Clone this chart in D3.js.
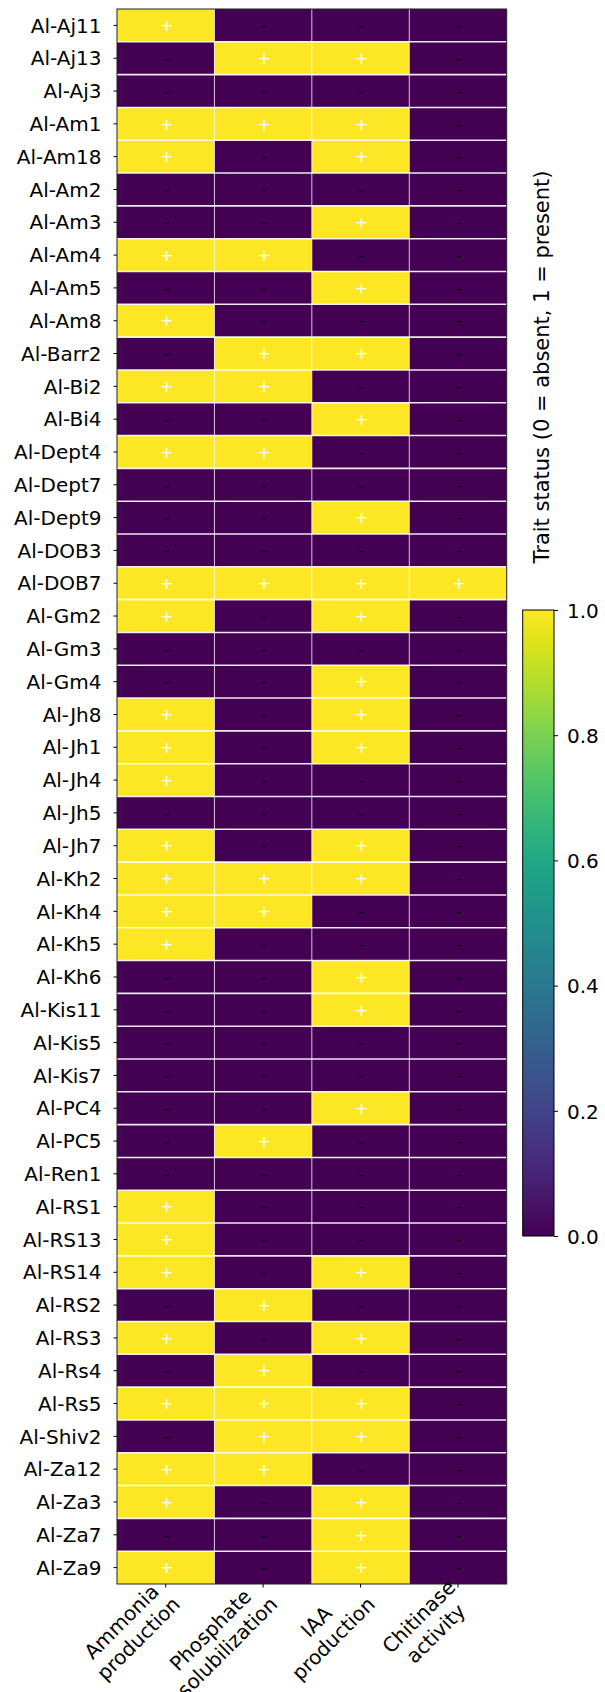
<!DOCTYPE html>
<html>
<head>
<meta charset="utf-8" />
<title>Trait heatmap</title>
<script src="https://d3js.org/d3.v7.min.js"></script>
<style>
  body { margin: 0; background: #fff; }
  text { font-family: 'DejaVu Sans', sans-serif; fill: #000; }
</style>
</head>
<body>
<div id="chart"></div>
<script>
// strains (rows, top to bottom)
const strains = [
  'Al-Aj11', 'Al-Aj13', 'Al-Aj3', 'Al-Am1', 'Al-Am18', 'Al-Am2', 'Al-Am3', 'Al-Am4',
  'Al-Am5', 'Al-Am8', 'Al-Barr2', 'Al-Bi2', 'Al-Bi4', 'Al-Dept4', 'Al-Dept7', 'Al-Dept9',
  'Al-DOB3', 'Al-DOB7', 'Al-Gm2', 'Al-Gm3', 'Al-Gm4', 'Al-Jh8', 'Al-Jh1', 'Al-Jh4',
  'Al-Jh5', 'Al-Jh7', 'Al-Kh2', 'Al-Kh4', 'Al-Kh5', 'Al-Kh6', 'Al-Kis11', 'Al-Kis5',
  'Al-Kis7', 'Al-PC4', 'Al-PC5', 'Al-Ren1', 'Al-RS1', 'Al-RS13', 'Al-RS14', 'Al-RS2',
  'Al-RS3', 'Al-Rs4', 'Al-Rs5', 'Al-Shiv2', 'Al-Za12', 'Al-Za3', 'Al-Za7', 'Al-Za9'
];

// trait columns
const traits = [
  ['Ammonia', 'production'],
  ['Phosphate', 'solubilization'],
  ['IAA', 'production'],
  ['Chitinase', 'activity']
];

// 1 = present, 0 = absent (same order as strains)
const ammonia   = [1,0,0,1,1,0,0,1,0,1,0,1,0,1,0,0,0,1,1,0,0,1,1,1,0,1,1,1,1,0,0,0,0,0,0,0,1,1,1,0,1,0,1,0,1,1,0,1];
const phosphate = [0,1,0,1,0,0,0,1,0,0,1,1,0,1,0,0,0,1,0,0,0,0,0,0,0,0,1,1,0,0,0,0,0,0,1,0,0,0,0,1,0,1,1,1,1,0,0,0];
const iaa       = [0,1,0,1,1,0,1,0,1,0,1,0,1,0,0,1,0,1,1,0,1,1,1,0,0,1,1,0,0,1,1,0,0,1,0,0,0,0,1,0,1,0,1,1,0,1,1,1];
const chitinase = [0,0,0,0,0,0,0,0,0,0,0,0,0,0,0,0,0,1,0,0,0,0,0,0,0,0,0,0,0,0,0,0,0,0,0,0,0,0,0,0,0,0,0,0,0,0,0,0];

const cbTicks = [0, 0.2, 0.4, 0.6, 0.8, 1.0];
const cbLabel = 'Trait status (0 = absent, 1 = present)';

const width = 605;
const height = 1692;

const values = [ammonia, phosphate, iaa, chitinase];
const cells = [];
strains.forEach((s, i) => {
  values.forEach((col, j) => cells.push({ strain: s, col: j, v: col[i] }));
});

const svg = d3.select('#chart').append('svg')
  .attr('width', width)
  .attr('height', height);

svg.append('rect').attr('width', width).attr('height', height).attr('fill', '#fff');

const x = d3.scaleBand().domain(d3.range(traits.length)).range([117, 506.7]);
const y = d3.scaleBand().domain(strains).range([9, 1584]);
const color = d3.interpolateViridis;

// cells
svg.append('g')
  .selectAll('rect')
  .data(cells)
  .join('rect')
  .attr('x', d => x(d.col))
  .attr('y', d => y(d.strain))
  .attr('width', x.bandwidth())
  .attr('height', y.bandwidth())
  .attr('fill', d => color(d.v));

// separators
const grid = svg.append('g');
grid.selectAll('line.h')
  .data(strains.slice(1))
  .join('line')
  .attr('x1', x.range()[0]).attr('x2', x.range()[1])
  .attr('y1', d => y(d)).attr('y2', d => y(d))
  .attr('stroke', '#fff').attr('stroke-opacity', 0.9).attr('stroke-width', 1.6);
grid.selectAll('line.v')
  .data(d3.range(1, traits.length))
  .join('line')
  .attr('y1', y.range()[0]).attr('y2', y.range()[1])
  .attr('x1', d => x(d)).attr('x2', d => x(d))
  .attr('stroke', '#fff').attr('stroke-opacity', 0.7).attr('stroke-width', 1);

// +/- annotations
svg.append('g')
  .selectAll('text')
  .data(cells)
  .join('text')
  .attr('x', d => x(d.col) + x.bandwidth() / 2 + 1)
  .attr('y', d => y(d.strain) + y.bandwidth() / 2)
  .attr('dy', '0.36em')
  .attr('text-anchor', 'middle')
  .style('font-size', '16px')
  .style('fill', d => d.v ? '#fff' : '#000')
  .text(d => d.v ? '+' : '-');

// frame
svg.append('rect')
  .attr('x', x.range()[0]).attr('y', y.range()[0])
  .attr('width', x.range()[1] - x.range()[0])
  .attr('height', y.range()[1] - y.range()[0])
  .attr('fill', 'none').attr('stroke', '#222').attr('stroke-width', 1);

// y axis
const yAxis = svg.append('g')
  .attr('transform', `translate(${x.range()[0]},0)`)
  .call(d3.axisLeft(y).tickSize(3.5).tickPadding(12));
yAxis.select('.domain').remove();
yAxis.selectAll('text')
  .style('font-size', '20px')
  .attr('dy', '0.36em');

// x axis
const xAxis = svg.append('g')
  .attr('transform', `translate(0,${y.range()[1]})`)
  .call(d3.axisBottom(x).tickSize(3.5).tickFormat(''));
xAxis.select('.domain').remove();

const lh = 24;
xAxis.selectAll('.tick').each(function (j) {
  const g = d3.select(this).append('g')
    .attr('transform', 'translate(2,8) rotate(-45)');
  const lines = traits[j];
  const t = lines.map((s, k) => g.append('text')
    .style('font-size', '20px')
    .attr('y', (k - (lines.length - 1) / 2) * lh)
    .attr('dy', '0.36em')
    .attr('text-anchor', 'middle')
    .text(s));
  const w = d3.max(t, n => n.node().getComputedTextLength());
  t.forEach(n => n.attr('x', -w / 2));
});

// colorbar
const cbX = 522.7, cbW = 31.3;
const cb = d3.scaleLinear().domain([0, 1]).range([1236, 610]);
const grad = svg.append('defs').append('linearGradient')
  .attr('id', 'viridis')
  .attr('x1', 0).attr('x2', 0).attr('y1', 1).attr('y2', 0);
grad.selectAll('stop')
  .data(d3.range(0, 1.0001, 0.05))
  .join('stop')
  .attr('offset', d => d)
  .attr('stop-color', d => color(d));

svg.append('rect')
  .attr('x', cbX).attr('y', cb(1))
  .attr('width', cbW).attr('height', cb(0) - cb(1))
  .attr('fill', 'url(#viridis)')
  .attr('stroke', '#000').attr('stroke-width', 1);

const cbAxis = svg.append('g')
  .attr('transform', `translate(${cbX + cbW},0)`)
  .call(d3.axisRight(cb).tickValues(cbTicks).tickFormat(d3.format('.1f')).tickSize(4).tickPadding(9));
cbAxis.select('.domain').remove();
cbAxis.selectAll('text').style('font-size', '20px').attr('dy', '0.36em');

svg.append('text')
  .attr('transform', 'translate(549,367) rotate(-90)')
  .attr('text-anchor', 'middle')
  .style('font-size', '21px')
  .text(cbLabel);
</script>
</body>
</html>
